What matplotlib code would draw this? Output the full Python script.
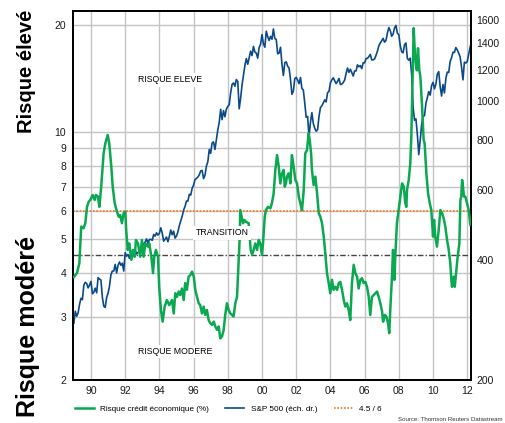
import numpy as np
import matplotlib.pyplot as plt
from matplotlib.lines import Line2D
from matplotlib.ticker import NullLocator

plt.rcParams['font.family'] = ['Liberation Sans', 'DejaVu Sans']

# risque credit economique (%)
risk_years = [1989.00, 1989.18, 1989.32, 1989.43, 1989.57, 1989.67, 1989.77, 1989.87, 1989.96,
              1990.10, 1990.22, 1990.29, 1990.41, 1990.49, 1990.60, 1990.74, 1990.84, 1990.98,
              1991.07, 1991.19, 1991.27, 1991.39, 1991.52, 1991.62, 1991.71, 1991.81, 1991.91,
              1992.01, 1992.06, 1992.15, 1992.24, 1992.36, 1992.46, 1992.56, 1992.63, 1992.75,
              1992.88, 1992.98, 1993.08, 1993.18, 1993.33, 1993.41, 1993.53, 1993.63, 1993.70,
              1993.80, 1993.92, 1993.99, 1994.09, 1994.19, 1994.31, 1994.44, 1994.58, 1994.74,
              1994.84, 1994.93, 1995.03, 1995.13, 1995.22, 1995.32, 1995.42, 1995.51, 1995.61,
              1995.71, 1995.81, 1995.91, 1996.01, 1996.10, 1996.20, 1996.30, 1996.39, 1996.49,
              1996.59, 1996.68, 1996.78, 1996.88, 1996.98, 1997.08, 1997.18, 1997.27, 1997.37,
              1997.47, 1997.56, 1997.66, 1997.76, 1997.85, 1997.95, 1998.05, 1998.15, 1998.25,
              1998.34, 1998.44, 1998.54, 1998.64, 1998.70, 1998.73, 1998.83, 1998.89, 1998.97,
              1999.06, 1999.22, 1999.28, 1999.34, 1999.42, 1999.51, 1999.61, 1999.71, 1999.81,
              1999.90, 2000.00, 2000.06, 2000.16, 2000.23, 2000.35, 2000.49, 2000.58, 2000.68,
              2000.78, 2000.88, 2000.98, 2001.07, 2001.17, 2001.27, 2001.33, 2001.40, 2001.46,
              2001.56, 2001.66, 2001.75, 2001.85, 2001.95, 2002.05, 2002.15, 2002.24, 2002.34,
              2002.44, 2002.53, 2002.63, 2002.73, 2002.79, 2002.87, 2002.92, 2003.02, 2003.12,
              2003.22, 2003.32, 2003.41, 2003.51, 2003.61, 2003.70, 2003.80, 2003.90, 2003.99,
              2004.09, 2004.19, 2004.29, 2004.39, 2004.49, 2004.58, 2004.68, 2004.78, 2004.87,
              2004.97, 2005.07, 2005.16, 2005.26, 2005.36, 2005.46, 2005.56, 2005.65, 2005.75,
              2005.85, 2005.95, 2006.04, 2006.14, 2006.24, 2006.33, 2006.43, 2006.53, 2006.63,
              2006.73, 2006.82, 2006.92, 2007.02, 2007.08, 2007.18, 2007.27, 2007.37, 2007.44,
              2007.50, 2007.60, 2007.66, 2007.74, 2007.80, 2007.89, 2007.99, 2008.09, 2008.19,
              2008.29, 2008.38, 2008.44, 2008.48, 2008.58, 2008.67, 2008.73, 2008.81, 2008.87,
              2008.93, 2009.01, 2009.06, 2009.12, 2009.20, 2009.26, 2009.36, 2009.45, 2009.51,
              2009.61, 2009.71, 2009.81, 2009.90, 2010.00, 2010.06, 2010.13, 2010.23, 2010.33,
              2010.43, 2010.53, 2010.62, 2010.72, 2010.82, 2010.92, 2011.01, 2011.07, 2011.11,
              2011.21, 2011.27, 2011.35, 2011.44, 2011.54, 2011.60, 2011.65, 2011.70, 2011.75,
              2011.81, 2011.89, 2011.99, 2012.09, 2012.18]
risk_vals = [3.90, 4.00, 4.26, 5.41, 5.35, 5.53, 6.15, 6.36, 6.43,
             6.64, 6.43, 6.64, 6.57, 6.15, 7.01, 8.70, 9.28, 9.80,
             9.28, 7.98, 7.01, 6.29, 5.96, 5.77, 5.83, 5.53, 5.90,
             5.96, 5.29, 4.65, 4.85, 4.36, 4.65, 4.45, 4.96, 4.85,
             4.45, 4.96, 4.45, 4.85, 4.75, 4.85, 4.45, 4.00, 4.45,
             4.65, 4.45, 3.66, 3.15, 2.92, 3.22, 3.36, 3.25, 3.36,
             3.08, 3.51, 3.43, 3.55, 3.47, 3.62, 3.36, 3.75, 3.59,
             3.91, 3.95, 4.04, 3.91, 3.59, 3.43, 3.29, 3.25, 3.08,
             3.22, 3.05, 3.15, 2.95, 2.89, 2.86, 2.92, 2.83, 2.77,
             2.83, 2.62, 2.65, 2.77, 3.05, 3.29, 3.15, 3.08, 3.05,
             3.02, 3.29, 3.43, 4.36, 5.07, 6.02, 5.71, 5.53, 5.65,
             5.58, 5.53, 5.07, 4.65, 4.50, 4.65, 4.85, 4.65, 4.96,
             4.85, 4.50, 4.85, 5.77, 6.02, 6.15, 6.09, 6.30, 6.70,
             7.81, 8.60, 7.98, 7.16, 7.64, 7.81, 7.01, 7.16, 7.48,
             7.64, 7.16, 8.60, 7.98, 7.32, 7.16, 6.57, 6.29, 6.02,
             6.86, 8.70, 8.89, 9.91, 9.49, 8.70, 7.81, 7.08, 7.48,
             6.71, 5.90, 5.77, 5.53, 5.07, 4.55, 4.00, 3.75, 3.51,
             3.83, 3.59, 3.66, 3.59, 3.75, 3.78, 3.59, 3.36, 3.22,
             3.29, 3.15, 2.95, 3.75, 4.22, 4.00, 3.91, 3.62, 3.83,
             3.87, 3.75, 3.78, 3.66, 3.43, 3.05, 3.43, 3.47, 3.51,
             3.55, 3.43, 3.29, 3.12, 2.92, 3.05, 3.02, 2.89, 2.71,
             3.15, 3.91, 4.65, 3.83, 4.55, 5.53, 6.02, 6.57, 7.16,
             7.01, 6.29, 6.15, 6.86, 7.32, 8.16, 9.69, 14.3, 19.6,
             17.0, 15.3, 14.9, 17.2, 14.9, 14.3, 11.8, 9.49, 9.28,
             7.64, 6.71, 6.29, 6.02, 5.07, 5.65, 5.07, 4.75, 5.29,
             6.02, 5.90, 5.71, 5.41, 4.96, 4.65, 4.26, 3.83, 3.66,
             3.91, 3.66, 4.00, 4.45, 4.85, 6.43, 6.57, 7.32, 7.01,
             6.57, 6.57, 6.29, 6.02, 5.47]

# S&P 500, fins de mois de dec. 1988 a mars 2012
spx = [277.7,
       297.5, 288.9, 294.9, 309.6, 320.5, 318.0, 346.1, 351.5, 349.2, 340.4, 346.0, 353.4,
       329.1, 331.9, 339.9, 330.8, 361.2, 358.0, 356.2, 322.6, 306.1, 304.0, 322.2, 330.2,
       343.9, 367.1, 375.2, 375.3, 389.8, 371.2, 387.8, 395.4, 387.9, 392.5, 375.2, 417.1,
       408.8, 412.7, 403.7, 415.0, 415.4, 408.1, 424.2, 414.0, 417.8, 418.7, 431.4, 435.7,
       438.8, 443.4, 451.7, 440.2, 450.2, 450.5, 448.1, 463.6, 458.9, 467.8, 461.8, 466.5,
       481.6, 467.1, 445.8, 450.9, 456.5, 444.3, 458.3, 475.5, 462.7, 472.4, 453.7, 459.3,
       470.4, 487.4, 500.7, 514.7, 533.4, 544.8, 562.1, 561.9, 584.4, 581.5, 605.4, 615.9,
       636.0, 640.4, 645.5, 654.2, 669.1, 670.6, 640.0, 652.0, 687.3, 705.3, 757.0, 740.7,
       786.2, 790.8, 757.1, 801.3, 848.3, 885.1, 954.3, 899.5, 947.3, 914.6, 955.4, 970.4,
       980.3, 1049.3, 1101.8, 1111.8, 1090.8, 1133.8, 1120.7, 957.3, 1017.0, 1098.7, 1163.6, 1229.2,
       1279.6, 1238.3, 1286.4, 1335.2, 1301.8, 1372.7, 1328.7, 1320.4, 1282.7, 1362.9, 1388.9, 1469.3,
       1394.5, 1366.4, 1498.6, 1452.4, 1420.6, 1454.6, 1430.8, 1517.7, 1436.5, 1429.4, 1315.2, 1320.3,
       1366.0, 1239.9, 1160.3, 1249.5, 1255.8, 1224.4, 1211.2, 1133.6, 1040.9, 1059.8, 1139.5, 1148.1,
       1130.2, 1106.7, 1147.4, 1076.9, 1067.1, 989.8, 911.6, 916.1, 815.3, 885.8, 936.3, 879.8,
       855.7, 841.2, 848.2, 916.9, 963.6, 974.5, 990.3, 1008.0, 996.0, 1050.7, 1058.2, 1111.9,
       1131.1, 1144.9, 1126.2, 1107.3, 1120.7, 1140.8, 1101.7, 1104.2, 1114.6, 1130.2, 1173.8, 1211.9,
       1181.3, 1203.6, 1180.6, 1156.9, 1191.5, 1191.3, 1234.2, 1220.3, 1228.8, 1207.0, 1249.5, 1248.3,
       1280.1, 1280.7, 1294.8, 1310.6, 1270.1, 1270.2, 1276.7, 1303.8, 1335.9, 1377.9, 1400.6, 1418.3,
       1438.2, 1406.8, 1420.9, 1482.4, 1530.6, 1503.4, 1455.3, 1474.0, 1526.8, 1549.4, 1481.1, 1468.4,
       1378.6, 1330.6, 1322.7, 1385.6, 1400.4, 1280.0, 1267.4, 1282.8, 1166.4, 968.8, 896.2, 903.3,
       825.9, 735.1, 797.9, 872.8, 919.1, 919.3, 987.5, 1020.6, 1057.1, 1036.2, 1095.6, 1115.1,
       1073.9, 1104.5, 1169.4, 1186.7, 1089.4, 1030.7, 1101.6, 1049.3, 1141.2, 1183.3, 1180.6, 1257.6,
       1286.1, 1327.2, 1325.8, 1363.6, 1345.2, 1320.6, 1292.3, 1218.9, 1131.4, 1253.3, 1247.0, 1257.6,
       1312.4, 1365.7, 1408.5]
spx_years = 1989 + np.arange(len(spx)) / 12.0

seuil_haut = 6
seuil_bas = 4.5

left_ticks = [2, 3, 4, 5, 6, 7, 8, 9, 10, 20]
right_ticks = [200, 400, 600, 800, 1000, 1200, 1400, 1600]
x_ticks = list(range(1990, 2013, 2))
x_labels = ['90', '92', '94', '96', '98', '00', '02', '04', '06', '08', '10', '12']

green = '#0aa850'
blue = '#0b4a8a'
orange = '#f07522'

fig = plt.figure(figsize=(5.05, 4.23), dpi=100)
ax = fig.add_axes([73 / 505, 43 / 423, 398 / 505, 369 / 423])
ax.set_yscale('log')
ax2 = ax.twinx()
ax2.set_yscale('log')

ax.grid(True, color='#c4c4c4', lw=1.0)
ax.axhline(seuil_haut, color=orange, lw=1.2, ls=(0, (1, 1)), zorder=3)
ax.axhline(seuil_bas, color='#444444', lw=1.0, ls=(0, (4, 1.5, 1, 1.5)), zorder=3)

ax2.plot(spx_years, spx, color=blue, lw=1.2, zorder=2)
ax2.plot(risk_years, risk_vals, color=green, lw=1.8, zorder=3, transform=ax.transData)

for txt, xx, yy in [('RISQUE ELEVE', 1994.62, 14.0), ('TRANSITION', 1997.66, 5.19),
                    ('RISQUE MODERE', 1994.91, 2.41)]:
    ax2.text(xx, yy, txt, transform=ax.transData, fontsize=6.3, ha='center', va='center',
             zorder=6, bbox=dict(facecolor='white', edgecolor='none', pad=1.5))

ax.set_xlim(1988.95, 2012.22)
ax.set_ylim(2, 21.9)
ax2.set_ylim(200, 1684)

ax.set_yticks(left_ticks)
ax.set_yticklabels([str(t) for t in left_ticks])
ax.yaxis.set_minor_locator(NullLocator())
ax2.set_yticks(right_ticks)
ax2.set_yticklabels([str(t) for t in right_ticks])
ax2.yaxis.set_minor_locator(NullLocator())
ax.set_xticks(x_ticks)
ax.set_xticklabels(x_labels)

ax.tick_params(axis='both', length=0, labelsize=7.5, colors='#1a1a1a')
ax.tick_params(axis='y', pad=5)
ax.tick_params(axis='x', pad=4)
ax2.tick_params(axis='y', length=0, labelsize=7.5, pad=4, colors='#1a1a1a')

for a in (ax, ax2):
    for s in a.spines.values():
        s.set_color('black')
        s.set_linewidth(1.3)

handles = [Line2D([], [], color=green, lw=1.8),
           Line2D([], [], color=blue, lw=1.2),
           Line2D([], [], color=orange, lw=1.2, ls=(0, (1, 1)))]
labels = ['Risque crédit économique (%)', 'S&P 500 (éch. dr.)', '4.5 / 6']
fig.legend(handles, labels, ncol=3, loc='lower left', bbox_to_anchor=(0.135, 0.008),
           frameon=False, fontsize=5.9, handlelength=2.3, handletextpad=0.8,
           columnspacing=2.0, borderpad=0.3)

fig.text(26 / 505, 1 - 71 / 423, 'Risque élevé', rotation=90, fontsize=14.5,
         fontweight='bold', ha='center', va='center')
fig.text(28 / 505, 1 - 326 / 423, 'Risque modéré', rotation=90, fontsize=18,
         fontweight='bold', ha='center', va='center')
fig.text(503 / 505, 1 - 419 / 423, 'Source: Thomson Reuters Datastream', fontsize=4.4,
         ha='right', va='center', color='#333333')

fig.savefig('out.png', dpi=100)
